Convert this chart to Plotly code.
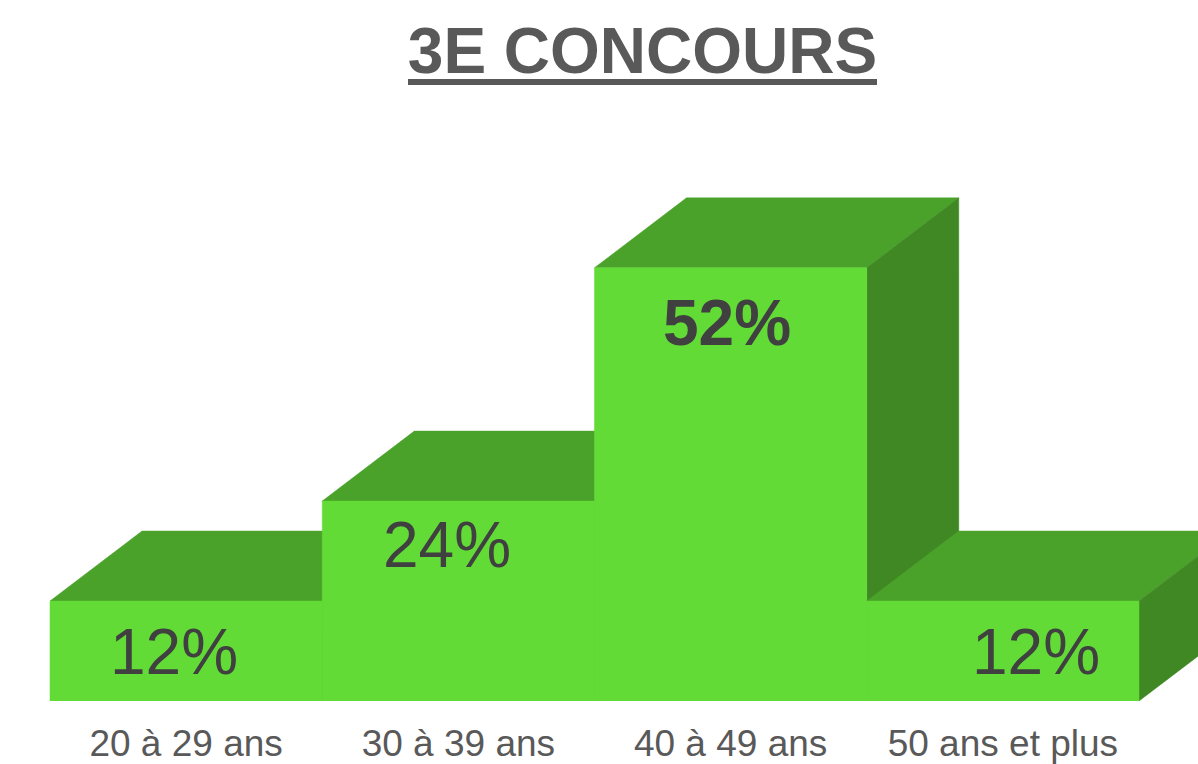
import plotly.graph_objects as go

title = "3E CONCOURS"
categories = ["20 à 29 ans", "30 à 39 ans", "40 à 49 ans", "50 ans et plus"]
values = [12, 24, 52, 12]
bold_flags = [False, False, True, False]

FRONT = "#62DB37"
TOP = "#4BA22A"
SIDE = "#3F8823"
DEPTH_X = 0.338
DEPTH_Y = 8.4
W, H = 1198, 764
PLOT_H = 701
PX_PER_UNIT_X = 272.25
PX_PER_UNIT_Y = 8.33


def face(xs, ys, color):
    return go.Scatter(x=xs, y=ys, mode="lines", fill="toself", fillcolor=color,
                      line=dict(color=color, width=0.5), hoverinfo="skip", showlegend=False)


fig = go.Figure()
for i, v in enumerate(values):
    fig.add_trace(face([i, i + 1, i + 1 + DEPTH_X, i + DEPTH_X, i],
                       [v, v, v + DEPTH_Y, v + DEPTH_Y, v], TOP))
    fig.add_trace(face([i + 1, i + 1 + DEPTH_X, i + 1 + DEPTH_X, i + 1, i + 1],
                       [0, DEPTH_Y, v + DEPTH_Y, v, 0], SIDE))
    fig.add_trace(face([i, i + 1, i + 1, i, i], [0, 0, v, v, 0], FRONT))

x_shifts = [-12, -11, -4, 33]
y_shifts = [-51, -44, -55, -51]
for i, (v, b) in enumerate(zip(values, bold_flags)):
    txt = f"{v}%"
    fig.add_annotation(x=i + 0.5, y=v, text=f"<b>{txt}</b>" if b else txt,
                       showarrow=False, xanchor="center", yanchor="middle",
                       xshift=x_shifts[i], yshift=y_shifts[i],
                       font=dict(family="Liberation Sans", size=64, color="#404040"))

fig.add_shape(type="rect", xref="paper", yref="paper", layer="above",
              x0=408 / W, x1=877 / W, y0=(PLOT_H - 85) / PLOT_H, y1=(PLOT_H - 79) / PLOT_H,
              fillcolor="#595959", line_width=0)

fig.update_layout(
    width=W, height=H, margin=dict(l=0, r=0, t=0, b=H - PLOT_H, pad=0),
    paper_bgcolor="white", plot_bgcolor="white", showlegend=False,
    font=dict(family="Liberation Sans"),
    title=dict(text=f"<b>{title}</b>", x=642.5 / W, xanchor="center", xref="paper",
               y=1 - 51 / H, yanchor="middle", yref="container",
               font=dict(family="Liberation Sans", size=64, color="#595959")),
    xaxis=dict(range=[-50 / PX_PER_UNIT_X, (W - 50) / PX_PER_UNIT_X],
               tickvals=[i + 0.5 for i in range(len(categories))], ticktext=categories,
               showgrid=False, zeroline=False, showline=False, ticks="",
               ticklabelstandoff=17, automargin=False,
               tickfont=dict(family="Liberation Sans", size=37, color="#595959")),
    yaxis=dict(range=[0, PLOT_H / PX_PER_UNIT_Y], visible=False, automargin=False),
)
fig.write_html("out.html", post_script="document.body.style.margin='0';", config=dict(displayModeBar=False))
